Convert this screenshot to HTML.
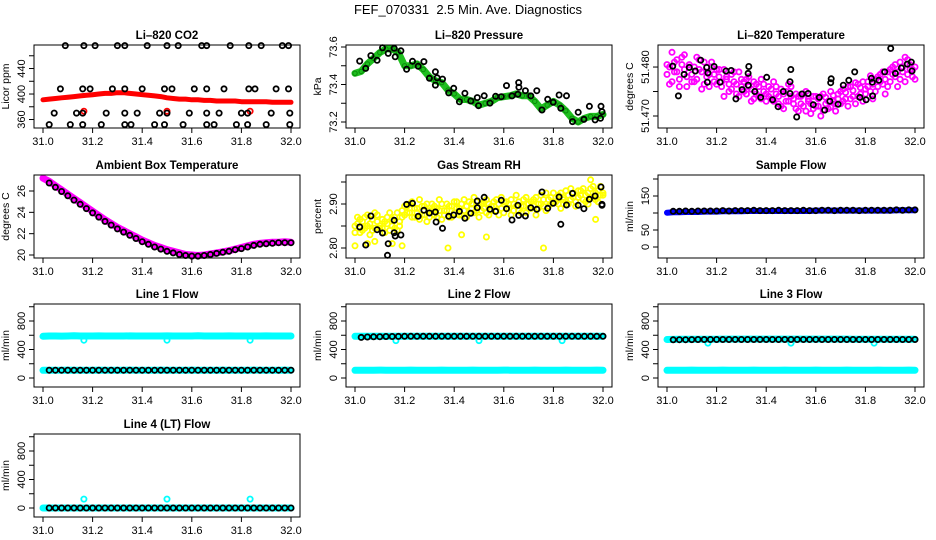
<!DOCTYPE html>
<html><head><meta charset="utf-8"><style>
html,body{margin:0;padding:0;background:#fff;}
svg{display:block;font-family:"Liberation Sans",Arial,sans-serif;}
</style></head><body>
<svg id="chart" width="936" height="540" viewBox="0 0 936 540" xmlns="http://www.w3.org/2000/svg">
<rect x="0" y="0" width="936" height="540" fill="#fff"/>
<text x="468" y="14" text-anchor="middle" font-size="13" style="white-space:pre" xml:space="preserve">FEF_070331  2.5 Min. Ave. Diagnostics</text>
</svg>
<script>
const T41=[31.0,31.025,31.05,31.075,31.1,31.125,31.15,31.175,31.2,31.225,31.25,31.275,31.3,31.325,31.35,31.375,31.4,31.425,31.45,31.475,31.5,31.525,31.55,31.575,31.6,31.625,31.65,31.675,31.7,31.725,31.75,31.775,31.8,31.825,31.85,31.875,31.9,31.925,31.95,31.975,32.0];
const T101=[31.00,31.01,31.02,31.03,31.04,31.05,31.06,31.07,31.08,31.09,31.10,31.11,31.12,31.13,31.14,31.15,31.16,31.17,31.18,31.19,31.20,31.21,31.22,31.23,31.24,31.25,31.26,31.27,31.28,31.29,31.30,31.31,31.32,31.33,31.34,31.35,31.36,31.37,31.38,31.39,31.40,31.41,31.42,31.43,31.44,31.45,31.46,31.47,31.48,31.49,31.50,31.51,31.52,31.53,31.54,31.55,31.56,31.57,31.58,31.59,31.60,31.61,31.62,31.63,31.64,31.65,31.66,31.67,31.68,31.69,31.70,31.71,31.72,31.73,31.74,31.75,31.76,31.77,31.78,31.79,31.80,31.81,31.82,31.83,31.84,31.85,31.86,31.87,31.88,31.89,31.90,31.91,31.92,31.93,31.94,31.95,31.96,31.97,31.98,31.99,32.00];
const xTicks=[31.0,31.2,31.4,31.6,31.8,32.0];
const xTickLabels=["31.0","31.2","31.4","31.6","31.8","32.0"];

// CO2
const co2Red=[391,392,393,394,395,396,397,398,399,400,401,401,402,402,401,400,399,398,397,396,394,393,392,392,391,391,390,390,389,389,389,389,388,388,388,388,388,387,387,387,387];
const co2BlkT=[31.09,31.165,31.21,31.30,31.33,31.42,31.50,31.545,31.64,31.66,31.755,31.83,31.88,31.965,31.99,
31.07,31.16,31.19,31.28,31.33,31.40,31.49,31.52,31.61,31.66,31.73,31.83,31.855,31.94,31.99,
31.045,31.135,31.16,31.255,31.33,31.38,31.47,31.50,31.59,31.66,31.71,31.80,31.825,31.92,31.995,
31.025,31.11,31.16,31.235,31.33,31.355,31.45,31.49,31.565,31.66,31.69,31.78,31.825,31.90,31.995];
const co2BlkV=[476,476,476,476,476,476,476,476,476,476,476,476,476,476,476,
408,408,408,408,408,408,408,408,408,408,408,408,408,408,408,
370,370,370,370,370,370,370,370,370,370,370,370,370,370,370,
352,352,352,352,352,352,352,352,352,352,352,352,352,352,352];
const co2RedOutT=[31.165,31.5,31.835];
const co2RedOutV=[373,373,373];

// Pressure
const presGreen=[73.46,73.47,73.51,73.54,73.57,73.59,73.59,73.57,73.50,73.50,73.51,73.48,73.44,73.42,73.41,73.37,73.35,73.32,73.32,73.31,73.29,73.30,73.31,73.33,73.335,73.34,73.35,73.34,73.34,73.31,73.27,73.29,73.31,73.29,73.26,73.22,73.20,73.22,73.23,73.23,73.24];
const presBlkT=[31.019,31.043,31.064,31.089,31.111,31.134,31.158,31.162,31.185,31.208,31.232,31.255,31.278,31.30,31.324,31.324,31.331,31.353,31.378,31.398,31.421,31.443,31.467,31.493,31.498,31.521,31.544,31.567,31.59,31.611,31.633,31.657,31.66,31.661,31.687,31.709,31.733,31.754,31.777,31.799,31.823,31.83,31.853,31.877,31.90,31.923,31.945,31.968,31.992,31.996,31.99];
const presBlkV=[73.525,73.486,73.554,73.529,73.596,73.566,73.593,73.548,73.580,73.481,73.524,73.497,73.522,73.433,73.468,73.397,73.436,73.429,73.355,73.38,73.308,73.353,73.312,73.330,73.287,73.340,73.301,73.337,73.335,73.394,73.339,73.348,73.41,73.385,73.367,73.339,73.367,73.264,73.321,73.305,73.344,73.273,73.34,73.202,73.252,73.214,73.284,73.211,73.284,73.255,73.22];

// Li-820 temperature
const tempMag=[51.4785,51.4800,51.4770,51.4810,51.4790,51.4760,51.4820,51.4795,51.4780,51.4805,51.4770,
51.4800,51.4775,51.4815,51.4790,51.4765,51.4800,51.4785,51.4810,51.4770,51.4795,
51.4780,51.4760,51.4795,51.4775,51.4750,51.4785,51.4770,51.4745,51.4790,51.4760,
51.4770,51.4745,51.4780,51.4755,51.4735,51.4765,51.4740,51.4775,51.4750,51.4730,
51.4760,51.4735,51.4770,51.4745,51.4725,51.4755,51.4715,51.4750,51.4730,51.4760,
51.4725,51.4745,51.4710,51.4740,51.4720,51.4750,51.4730,51.4705,51.4740,51.4720,
51.4735,51.4700,51.4745,51.4725,51.4715,51.4750,51.4730,51.4710,51.4745,51.4725,
51.4755,51.4735,51.4720,51.4760,51.4740,51.4725,51.4765,51.4745,51.4730,51.4755,
51.4770,51.4750,51.4735,51.4775,51.4760,51.4785,51.4765,51.4745,51.4790,51.4770,
51.4800,51.4780,51.4760,51.4810,51.4790,51.4770,51.4815,51.4795,51.4780,51.4800];
const tempMag2=[51.4805,51.4765,51.4830,51.4790,51.4815,51.4775,51.4805,51.4825,51.4760,51.4800,51.4785,
51.4770,51.4820,51.4795,51.4755,51.4810,51.4780,51.4760,51.4800,51.4785,51.4765,
51.4795,51.4770,51.4740,51.4780,51.4765,51.4755,51.4790,51.4765,51.4740,51.4775,
51.4750,51.4775,51.4760,51.4730,51.4770,51.4745,51.4760,51.4735,51.4765,51.4745,
51.4740,51.4755,51.4730,51.4760,51.4740,51.4720,51.4745,51.4730,51.4765,51.4740,
51.4735,51.4715,51.4740,51.4725,51.4745,51.4710,51.4735,51.4725,51.4715,51.4740,
51.4720,51.4740,51.4712,51.4738,51.4730,51.4718,51.4742,51.4725,51.4735,51.4750,
51.4730,51.4748,51.4760,51.4735,51.4752,51.4768,51.4740,51.4758,51.4770,51.4745,
51.4760,51.4782,51.4765,51.4750,51.4780,51.4770,51.4790,51.4775,51.4760,51.4795,
51.4785,51.4805,51.4790,51.4775,51.4800,51.4820,51.4785,51.4805,51.4795,51.4775];
const tempBlkT=[31.023,31.046,31.069,31.090,31.114,31.136,31.160,31.163,31.165,31.190,31.214,31.238,31.259,31.278,31.303,31.327,31.330,31.328,31.354,31.378,31.402,31.426,31.448,31.469,31.496,31.496,31.499,31.523,31.544,31.569,31.590,31.614,31.636,31.657,31.660,31.662,31.690,31.711,31.733,31.757,31.778,31.803,31.824,31.828,31.829,31.854,31.878,31.902,31.921,31.945,31.969,31.985,31.988];
const tempBlkV=[51.4802,51.4741,51.4785,51.4799,51.4792,51.4814,51.4799,51.4769,51.4788,51.4801,51.4769,51.4792,51.4793,51.4735,51.4754,51.4787,51.4801,51.4763,51.4750,51.4738,51.4779,51.4733,51.4719,51.4750,51.4746,51.4770,51.4795,51.4698,51.4745,51.4746,51.4723,51.4738,51.4712,51.4730,51.4768,51.4776,51.4724,51.4763,51.4773,51.4790,51.4738,51.4733,51.4777,51.4769,51.4741,51.4773,51.4790,51.4838,51.4787,51.4798,51.4806,51.4810,51.4792];

// Ambient box temperature
const ambMag=[27.2,26.9,26.5,26.1,25.7,25.3,24.9,24.5,24.1,23.7,23.3,22.95,22.6,22.3,22.0,21.7,21.4,21.15,20.9,20.7,20.5,20.35,20.2,20.05,20.0,19.95,20.0,20.1,20.2,20.3,20.4,20.55,20.7,20.85,21.0,21.1,21.15,21.2,21.2,21.25,21.2];
const ambBlk=[27.0,26.75,26.35,25.95,25.55,25.15,24.75,24.35,23.95,23.55,23.15,22.8,22.45,22.15,21.85,21.55,21.25,21.0,20.75,20.55,20.35,20.2,20.05,19.95,19.9,19.9,19.95,20.05,20.15,20.25,20.35,20.5,20.6,20.75,20.9,21.0,21.05,21.1,21.15,21.15,21.15];

// Gas stream RH
const rhYel=[2.850,2.870,2.835,2.860,2.845,2.875,2.855,2.840,2.880,2.860,2.845,
2.865,2.835,2.855,2.880,2.850,2.870,2.840,2.860,2.885,2.875,
2.895,2.880,2.905,2.870,2.890,2.910,2.875,2.895,2.860,2.885,
2.900,2.875,2.890,2.910,2.865,2.885,2.900,2.870,2.895,2.880,
2.905,2.890,2.875,2.910,2.895,2.880,2.900,2.915,2.885,2.870,
2.900,2.890,2.910,2.875,2.895,2.905,2.885,2.900,2.915,2.880,
2.905,2.890,2.875,2.900,2.920,2.885,2.895,2.910,2.880,2.900,
2.890,2.910,2.875,2.900,2.920,2.895,2.885,2.910,2.900,2.925,
2.905,2.920,2.890,2.915,2.930,2.900,2.910,2.925,2.895,2.915,
2.930,2.910,2.920,2.900,2.935,2.915,2.925,2.905,2.940,2.920];
const rhYel2=[2.835,2.855,2.865,2.840,2.870,2.850,2.830,2.865,2.845,2.875,2.850,
2.845,2.860,2.870,2.840,2.865,2.845,2.880,2.850,2.870,2.895,
2.880,2.900,2.870,2.890,2.880,2.865,2.895,2.875,2.900,2.870,
2.885,2.895,2.870,2.885,2.900,2.875,2.885,2.895,2.870,2.905,
2.890,2.875,2.900,2.885,2.870,2.905,2.890,2.880,2.905,2.895,
2.885,2.905,2.880,2.900,2.885,2.895,2.910,2.875,2.890,2.905,
2.890,2.900,2.910,2.885,2.895,2.905,2.880,2.895,2.915,2.890,
2.905,2.895,2.915,2.890,2.900,2.910,2.925,2.895,2.915,2.905,
2.915,2.900,2.925,2.910,2.905,2.920,2.935,2.915,2.905,2.930,
2.920,2.935,2.905,2.925,2.915,2.940,2.910,2.930,2.920,2.925];
const rhOutT=[31.0,31.05,31.19,31.375,31.76,31.08,31.15,31.43,31.53,31.95,31.97];
const rhOutV=[2.805,2.81,2.805,2.80,2.80,2.815,2.81,2.83,2.825,2.955,2.865];
const rhBlkT=[31.019,31.043,31.064,31.089,31.111,31.134,31.158,31.158,31.162,31.185,31.208,31.232,31.255,31.278,31.30,31.324,31.327,31.353,31.378,31.398,31.421,31.443,31.467,31.493,31.493,31.521,31.544,31.567,31.59,31.611,31.633,31.657,31.66,31.687,31.709,31.733,31.754,31.777,31.799,31.823,31.83,31.853,31.877,31.90,31.923,31.945,31.968,31.992,31.996,31.996,31.131];
const rhBlkV=[2.8477,2.8068,2.8727,2.8416,2.8341,2.8098,2.8629,2.8348,2.8273,2.8295,2.8992,2.9015,2.872,2.8856,2.8795,2.8818,2.8591,2.8447,2.872,2.875,2.8833,2.8674,2.8788,2.8917,2.9068,2.9152,2.888,2.8833,2.9083,2.8894,2.8636,2.897,2.8742,2.8727,2.8917,2.888,2.9273,2.8902,2.9015,2.9159,2.8538,2.8977,2.9242,2.897,2.8894,2.9106,2.9182,2.9386,2.897,2.8992,2.7834];

// Sample flow
const sfBlue=[101,102,102,103,103,103,104,104,104,105,105,105,105,106,106,106,106,106,106,106,106,106,106,106,107,107,107,107,107,107,107,107,107,107,107,107,107,108,108,108,108];
const sfBlk=[104,105,105,106,105,106,106,106,106,107,106,107,107,107,108,107,107,107,108,107,107,107,108,107,107,108,108,107,108,108,108,107,108,108,108,108,108,109,108,109,109];

// Line flows
const l1High=[585,590,590,588,590,592,590,589,590,591,590,590,589,590,591,590,590,589,590,590,591,590,590,589,590,592,590,590,589,590,591,590,590,589,590,590,591,590,590,589,590];
const l1Low=[108,110,110,110,111,110,110,110,110,111,110,110,110,110,111,110,110,110,110,111,110,110,110,110,111,110,110,110,110,111,110,110,110,110,111,110,110,110,110,111,110];
const l1Blk=[110,110,110,110,110,110,110,110,110,110,110,110,110,110,110,110,110,110,110,110,110,110,110,110,110,110,110,110,110,110,110,110,110,110,110,110,110,110,110,110,110];
const l2High=[585,586,586,585,586,586,585,586,586,585,586,586,585,586,586,585,586,586,585,586,586,585,586,586,585,586,586,585,586,586,585,586,586,585,586,586,585,586,586,585,586];
const l2Low=[108,110,110,110,111,110,110,110,110,111,110,110,110,110,111,110,110,110,110,111,110,110,110,110,111,110,110,110,110,111,110,110,110,110,111,110,110,110,110,111,110];
const l2Blk=[565,570,575,578,580,582,583,584,585,585,585,585,585,585,585,585,585,585,585,585,585,585,585,585,585,585,585,585,585,585,585,585,585,585,585,585,585,585,585,585,585];
const l3High=[540,542,543,543,544,544,545,545,545,546,546,546,546,546,546,546,546,546,546,546,546,546,546,546,546,546,546,546,546,546,545,545,545,545,545,545,545,545,545,545,545];
const l3Low=[108,110,110,110,111,110,110,110,110,111,110,110,110,110,111,110,110,110,110,111,110,110,110,110,111,110,110,110,110,111,110,110,110,110,111,110,110,110,110,111,110];
const l3Blk=[535,536,537,538,539,540,540,540,540,540,540,540,540,540,540,540,540,540,540,540,540,540,540,540,540,540,540,540,540,540,540,540,540,540,540,540,540,540,540,540,540];
const l4Cyan=[0,0,0,0,0,0,0,0,0,0,0,0,0,0,0,0,0,0,0,0,0,0,0,0,0,0,0,0,0,0,0,0,0,0,0,0,0,0,0,0,0];
const l4Blk=[0,0,0,0,0,0,0,0,0,0,0,0,0,0,0,0,0,0,0,0,0,0,0,0,0,0,0,0,0,0,0,0,0,0,0,0,0,0,0,0,0];
const dipT=[31.165,31.5,31.835];
const l1Dip=[530,530,530];
const l2Dip=[525,525,525];
const l3Dip=[490,490,490];
const l4Spike=[125,125,125];

const NS="http://www.w3.org/2000/svg";
const svg=document.getElementById('chart');
function mk(tag,attrs,parent){const e=document.createElementNS(NS,tag);for(const k in attrs)e.setAttribute(k,attrs[k]);(parent||svg).appendChild(e);return e;}

function makePanel(name,title,ylab,col,row,ymin,ymax,yticks,ylabels){
  const left=34+col*312, top=45+Math.round(row*129.7), w=266, h=83;
  const g=mk('g',{});
  
  
  const xs=t=>left+9+(t-31)*248;
  const ys=v=>top+h-(v-ymin)/(ymax-ymin)*h;
  const tt=mk('text',{x:left+w/2,y:top-6,'text-anchor':'middle','font-size':'11.5','font-weight':'bold'},g);
  tt.textContent=title;
  
  
  const yl=mk('text',{x:0,y:0,'text-anchor':'middle','font-size':'10.5',transform:`translate(${left-25},${top+h/2}) rotate(-90)`},g);
  yl.textContent=ylab;
  
  
  const plot=mk('g',{},g);
  
  
  const box=mk('rect',{x:left,y:top,width:w,height:h,fill:'none',stroke:'#000','stroke-width':1},g);
  
  
  const xa=mk('g',{},g);
  
  
  xTicks.forEach((t,i)=>{
    const x=xs(t);
    mk('line',{x1:x,x2:x,y1:top+h,y2:top+h+5,stroke:'#000'},xa);
    const lb=mk('text',{x:x,y:top+h+17,'text-anchor':'middle','font-size':'11'},xa);
    lb.textContent=xTickLabels[i];
    
    
  });
  const ya=mk('g',{},g);
  
  
  yticks.forEach((v,i)=>{
    const y=ys(v);
    mk('line',{x1:left-5,x2:left,y1:y,y2:y,stroke:'#000'},ya);
    if(ylabels[i]){
      const lb=mk('text',{x:0,y:0,'text-anchor':'middle','font-size':'11',transform:`translate(${left-9},${y}) rotate(-90)`},ya);
      lb.textContent=ylabels[i];
      
      
    }
  });
  return {xs,ys,plot};
}
function band(p,ts,vs,color,sw,name){
  const pts=ts.map((t,i)=>p.xs(t).toFixed(1)+','+p.ys(vs[i]).toFixed(1)).join(' ');
  const pl=mk('polyline',{points:pts,fill:'none',stroke:color,'stroke-width':sw,'stroke-linejoin':'round','stroke-linecap':'round'},p.plot);
  
  
}
function pts(p,ts,vs,color,name,r,sw){
  const g=mk('g',{},p.plot);
  
  
  ts.forEach((t,i)=>{
    const c=mk('circle',{cx:p.xs(t).toFixed(1),cy:p.ys(vs[i]).toFixed(1),r:r||2.6,fill:'none',stroke:color,'stroke-width':sw||1.8},g);
    
    
  });
}

let p;
p=makePanel('co2','Li\u2013820 CO2','Licor ppm',0,0,346.7,476.9,[360,380,400,420,440,460],['360','','400','','440','']);
band(p,T41,co2Red,'#ff0000',5,'co2-red-series');
pts(p,co2RedOutT,co2RedOutV,'#ff0000','co2-red-outliers');
pts(p,co2BlkT,co2BlkV,'#000','co2-black-series');

p=makePanel('pressure','Li\u2013820 Pressure','kPa',1,0,73.168,73.6107,[73.2,73.3,73.4,73.5,73.6],['73.2','','73.4','','73.6']);
band(p,T41,presGreen,'#1fbf1f',7,'pressure-green-series');
pts(p,T41,presGreen,'#0a8a0a','pressure-green-points',2.2,1);
pts(p,presBlkT,presBlkV,'#000','pressure-black-series');

p=makePanel('li820-temp','Li\u2013820 Temperature','degrees C',2,0,51.46755,51.4845,[51.470,51.475,51.480],['51.470','','51.480']);
pts(p,T101,tempMag,'#ff00ff','temp-magenta-series');
pts(p,T101,tempMag2,'#ff00ff','temp-magenta-series-2');
pts(p,tempBlkT,tempBlkV,'#000','temp-black-series');

p=makePanel('ambient','Ambient Box Temperature','degrees C',0,1,19.72,27.5,[20,22,24,26],['20','22','24','26']);
band(p,T41,ambMag,'#ff00ff',7,'ambient-magenta-series');
pts(p,T41.slice(1),ambBlk.slice(1),'#000','ambient-black-series');

p=makePanel('rh','Gas Stream RH','percent',1,1,2.7773,2.9659,[2.80,2.85,2.90,2.95],['2.80','','2.90','']);
pts(p,T101,rhYel,'#ffff00','rh-yellow-series');
pts(p,T101,rhYel2,'#ffff00','rh-yellow-series-2');
pts(p,rhOutT,rhOutV,'#ffff00','rh-yellow-outliers');
pts(p,rhBlkT,rhBlkV,'#000','rh-black-series');

p=makePanel('sample-flow','Sample Flow','ml/min',2,1,-32.4,211.8,[0,50,100,150,200],['0','50','','150','']);
band(p,T41,sfBlue,'#0000ff',6,'sample-flow-blue-series');
pts(p,T41.slice(1),sfBlk.slice(1),'#000','sample-flow-black-series');

const fT=[0,200,400,600,800,1000], fL=['0','','400','','800',''];
p=makePanel('line1','Line 1 Flow','ml/min',0,2,-126.3,1038.6,fT,fL);
band(p,T41,l1High,'#00ffff',7,'line1-cyan-high');
band(p,T41,l1Low,'#00ffff',7,'line1-cyan-low');
pts(p,dipT,l1Dip,'#00ffff','line1-cyan-dips');
pts(p,T41.slice(1),l1Blk.slice(1),'#000','line1-black-series');

p=makePanel('line2','Line 2 Flow','ml/min',1,2,-126.3,1038.6,fT,fL);
band(p,T41,l2High,'#00ffff',7,'line2-cyan-high');
band(p,T41,l2Low,'#00ffff',7,'line2-cyan-low');
pts(p,dipT,l2Dip,'#00ffff','line2-cyan-dips');
pts(p,T41.slice(1),l2Blk.slice(1),'#000','line2-black-series');

p=makePanel('line3','Line 3 Flow','ml/min',2,2,-126.3,1038.6,fT,fL);
band(p,T41,l3High,'#00ffff',7,'line3-cyan-high');
band(p,T41,l3Low,'#00ffff',7,'line3-cyan-low');
pts(p,dipT,l3Dip,'#00ffff','line3-cyan-dips');
pts(p,T41.slice(1),l3Blk.slice(1),'#000','line3-black-series');

p=makePanel('line4','Line 4 (LT) Flow','ml/min',0,3,-126.3,1038.6,fT,fL);
band(p,T41,l4Cyan,'#00ffff',7,'line4-cyan-series');
pts(p,dipT,l4Spike,'#00ffff','line4-cyan-spikes');
pts(p,T41.slice(1),l4Blk.slice(1),'#000','line4-black-series');
</script>
</body></html>
